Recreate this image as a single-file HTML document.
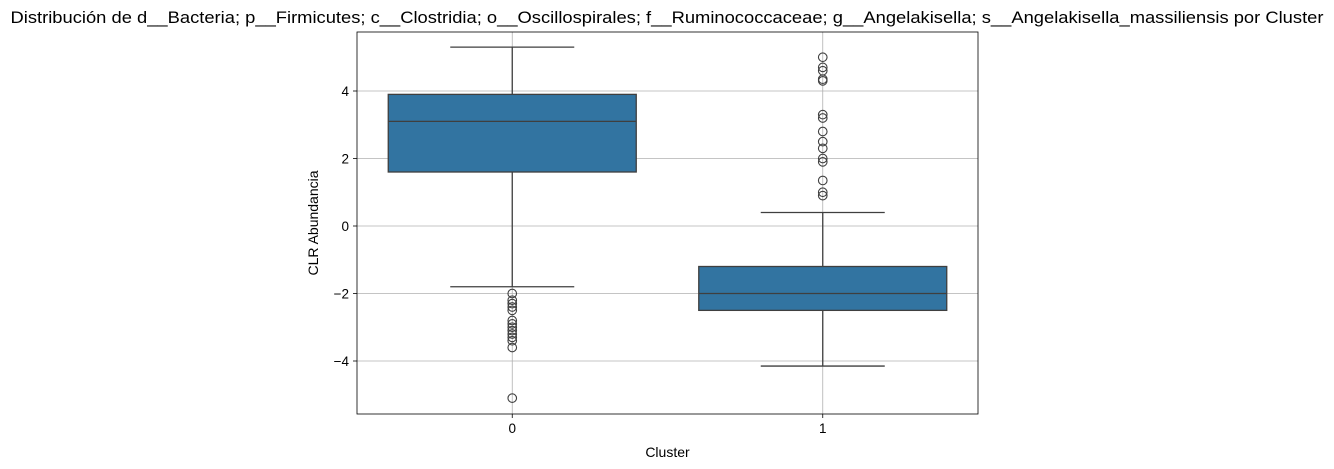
<!DOCTYPE html>
<html><head><meta charset="utf-8"><style>
html,body{margin:0;padding:0;background:#fff;width:1334px;height:469px;overflow:hidden}
svg{display:block;font-family:"Liberation Sans",sans-serif}
</style></head><body>
<svg id="chart" width="1334" height="469">
<text x="667" y="23" text-anchor="middle" font-size="16.5" textLength="1313" lengthAdjust="spacingAndGlyphs" fill="#000">Distribución de d__Bacteria; p__Firmicutes; c__Clostridia; o__Oscillospirales; f__Ruminococcaceae; g__Angelakisella; s__Angelakisella_massiliensis por Cluster</text>
<g id="grid"></g><g id="marks"></g><g id="axes"></g>
</svg>
<script>
const categories = ["0","1"];
const q1 = [1.6, -2.5];
const median = [3.1, -2.0];
const q3 = [3.9, -1.2];
const whiskerLow = [-1.8, -4.15];
const whiskerHigh = [5.3, 0.4];
const outliers0 = [-2.0,-2.2,-2.3,-2.4,-2.5,-2.8,-2.9,-3.0,-3.1,-3.2,-3.3,-3.4,-3.6,-5.1];
const outliers1 = [0.9,1.0,1.35,1.9,2.0,2.3,2.5,2.8,3.2,3.3,4.3,4.35,4.6,4.7,5.0];
const outliers = [outliers0, outliers1];
const yTicks = [-4,-2,0,2,4];

const L=357,R=978,T=32,B=414;
const y = v => 226 - v*33.75;
const x = i => L + (R-L)*(i+0.5)/categories.length;
const bw = 248;
const NS="http://www.w3.org/2000/svg";
function mk(parent,tag,attrs){const e=document.createElementNS(NS,tag);for(const k in attrs)e.setAttribute(k,attrs[k]);document.getElementById(parent).appendChild(e);return e;}

yTicks.forEach(t=>{
  const g=mk('grid','line',{x1:L,x2:R,y1:y(t),y2:y(t),stroke:'#b0b0b0','stroke-width':0.8});
  
  
  const tk=mk('axes','line',{x1:L-4,x2:L,y1:y(t),y2:y(t),stroke:'#000','stroke-width':0.8});
  
  
  const lb=mk('axes','text',{x:L-8,y:y(t)+5,'text-anchor':'end','font-size':13.5,fill:'#000'});
  lb.textContent=t<0?'\u2212'+Math.abs(t):t;
  
  
});
categories.forEach((c,i)=>{
  const cx=x(i);
  const g=mk('grid','line',{x1:cx,x2:cx,y1:T,y2:B,stroke:'#b0b0b0','stroke-width':0.8});
  
  
  const tk=mk('axes','line',{x1:cx,x2:cx,y1:B,y2:B+4,stroke:'#000','stroke-width':0.8});
  
  
  const lb=mk('axes','text',{x:cx,y:B+19,'text-anchor':'middle','font-size':13.5,fill:'#000'});
  lb.textContent=c;
  
  
  const st='#3f3f3f';
  const w1=mk('marks','line',{x1:cx,x2:cx,y1:y(q3[i]),y2:y(whiskerHigh[i]),stroke:st,'stroke-width':1.3});
  
  
  const w2=mk('marks','line',{x1:cx,x2:cx,y1:y(q1[i]),y2:y(whiskerLow[i]),stroke:st,'stroke-width':1.3});
  
  
  const c1=mk('marks','line',{x1:cx-bw/4,x2:cx+bw/4,y1:y(whiskerHigh[i]),y2:y(whiskerHigh[i]),stroke:st,'stroke-width':1.3});
  
  
  const c2=mk('marks','line',{x1:cx-bw/4,x2:cx+bw/4,y1:y(whiskerLow[i]),y2:y(whiskerLow[i]),stroke:st,'stroke-width':1.3});
  
  
  const bx=mk('marks','rect',{x:cx-bw/2,y:y(q3[i]),width:bw,height:y(q1[i])-y(q3[i]),fill:'#3274a1',stroke:st,'stroke-width':1.3});
  
  
  const md=mk('marks','line',{x1:cx-bw/2,x2:cx+bw/2,y1:y(median[i]),y2:y(median[i]),stroke:st,'stroke-width':1.3});
  
  
  outliers[i].forEach(v=>{
    const o=mk('marks','circle',{cx:cx,cy:y(v),r:4.3,fill:'none',stroke:st,'stroke-width':1.1});
    
    
  });
});
const fr=mk('axes','rect',{x:L,y:T,width:R-L,height:B-T,fill:'none',stroke:'#000','stroke-width':0.8});


const xt=mk('axes','text',{x:(L+R)/2,y:457,'text-anchor':'middle','font-size':14,fill:'#000'});
xt.textContent='Cluster';


const yt=mk('axes','text',{x:318,y:(T+B)/2,'text-anchor':'middle','font-size':14,fill:'#000',transform:'rotate(-90 318 '+((T+B)/2)+')'});
yt.textContent='CLR Abundancia';


</script>
</body></html>
